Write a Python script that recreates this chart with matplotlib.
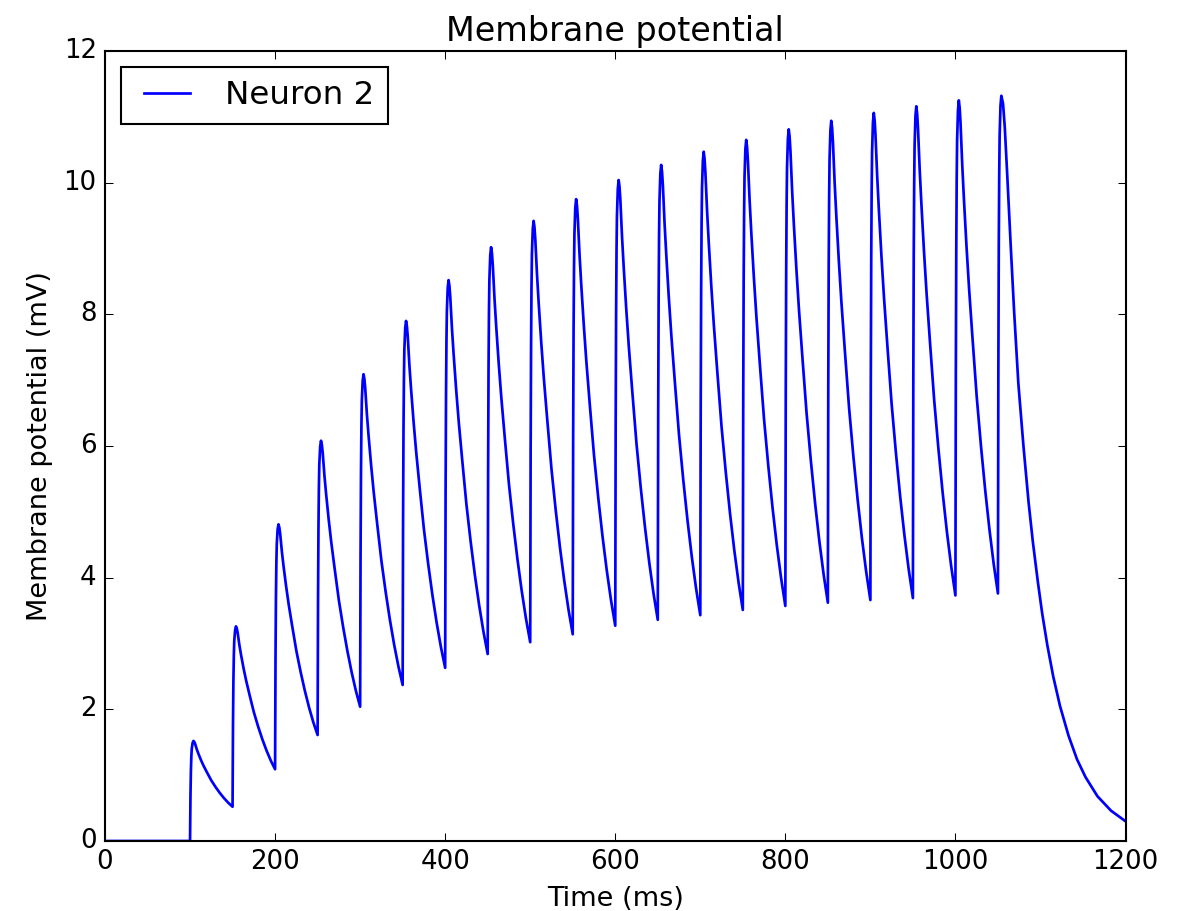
import matplotlib
matplotlib.use('Agg')
import matplotlib.pyplot as plt

# input onsets (ms), voltage just before each input and at each peak (mV)
onsets = [100, 150, 200, 250, 300, 350, 400, 450, 500, 550,
          600, 650, 700, 750, 800, 850, 900, 950, 1000, 1050]
troughs = [0.0, 0.52, 1.09, 1.61, 2.04, 2.37, 2.63, 2.84, 3.02, 3.14,
           3.27, 3.36, 3.43, 3.51, 3.57, 3.62, 3.66, 3.69, 3.73, 3.76]
peaks = [1.52, 3.26, 4.81, 6.08, 7.09, 7.90, 8.52, 9.02, 9.42, 9.75,
         10.04, 10.27, 10.47, 10.65, 10.81, 10.94, 11.06, 11.16, 11.25, 11.32]

# shape of one cycle: ms after onset, fraction of the swing
rise_offsets = [0, 0.5, 1.0, 1.5, 2.0, 3.0, 4.0]
rise_frac = [0.0, 0.45, 0.70, 0.84, 0.92, 0.98, 1.0]
decay_offsets = [5, 6, 8, 10, 13, 16, 20, 25, 30, 35, 40, 45]
decay_frac = [0.985, 0.955, 0.87, 0.80, 0.705, 0.62, 0.52, 0.40, 0.30, 0.21, 0.13, 0.06]

# final decay after the last input
tail_t = [1056, 1058, 1061, 1065, 1069, 1074, 1080, 1086, 1091, 1097, 1102,
          1108, 1115, 1123, 1133, 1143, 1153, 1167, 1183, 1200]
tail_v = [11.2, 10.85, 10.1, 9.05, 8.05, 6.95, 6.0, 5.15, 4.55, 3.93, 3.46,
          2.98, 2.50, 2.05, 1.60, 1.24, 0.97, 0.68, 0.46, 0.30]


def build_trace():
    t = [0.0]
    v = [0.0]
    for k, t0 in enumerate(onsets):
        m = troughs[k]
        p = peaks[k]
        for dt, f in zip(rise_offsets, rise_frac):
            t.append(t0 + dt)
            v.append(m + f * (p - m))
        if k + 1 < len(onsets):
            n = troughs[k + 1]
            for dt, f in zip(decay_offsets, decay_frac):
                t.append(t0 + dt)
                v.append(n + f * (p - n))
    t += tail_t
    v += tail_v
    return t, v


def main():
    plt.style.use('classic')
    fig = plt.figure(figsize=(1187 / 150, 911 / 150), dpi=150)
    ax = fig.add_axes([105 / 1187, 70 / 911, 1020.5 / 1187, 790 / 911])

    t, v = build_trace()
    ax.plot(t, v, color='b', linewidth=1.3, label='Neuron 2')

    ax.set_xlim(0, 1200)
    ax.set_ylim(0, 12)
    ax.set_xticks([0, 200, 400, 600, 800, 1000, 1200])
    ax.set_yticks([0, 2, 4, 6, 8, 10, 12])
    ax.tick_params(labelsize=12.5)
    ax.set_title('Membrane potential', fontsize=16)
    ax.set_xlabel('Time (ms)', fontsize=13)
    ax.set_ylabel('Membrane potential (mV)', fontsize=13)
    ax.legend(loc='upper left', fontsize=15.6)

    fig.savefig('out.png', dpi=150)


if __name__ == "__main__":
    main()
